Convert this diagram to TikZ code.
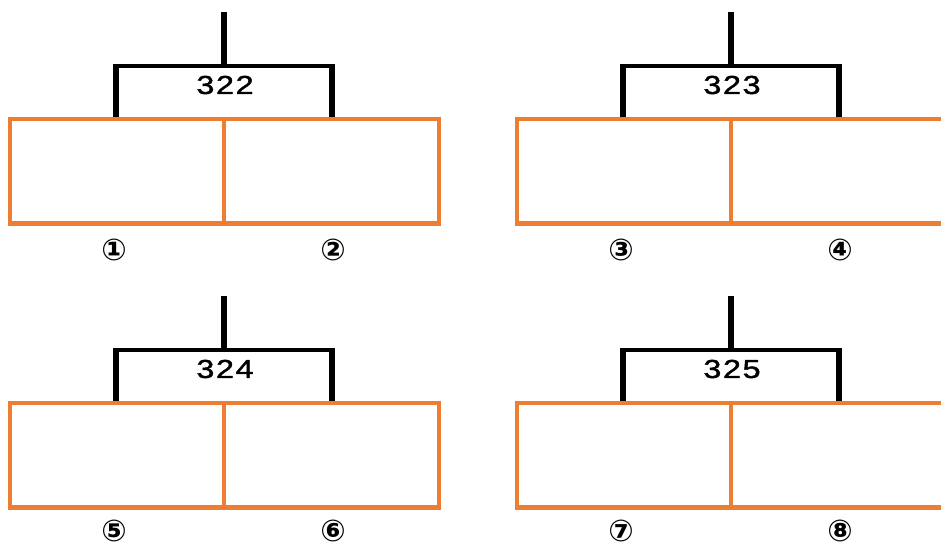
\documentclass[tikz,border=0pt]{standalone}
\usepackage{fontspec}
\setmainfont{Liberation Sans}
\newfontfamily\numfont[LetterSpace=6,FakeStretch=1.25,FakeBold=1.5]{Liberation Sans}
\newfontfamily\circfont{DejaVu Sans Bold}
\definecolor{boxorange}{HTML}{ED7D31}
\tikzset{
  orangebox/.style={draw=boxorange, line width=4.2pt},
  bracketbar/.style={draw=black, line width=4.5pt},
  bracketleg/.style={draw=black, line width=6.2pt},
  numlabel/.style={inner sep=0pt, font=\numfont\fontsize{26}{28}\selectfont},
  circlabel/.style={inner sep=0pt, font=\circfont\fontsize{30}{32}\selectfont}
}
\begin{document}
\begin{tikzpicture}[x=1pt,y=-1pt]
\useasboundingbox (0,0) rectangle (941,547);
\fill[white] (0,0) rectangle (941,547);
\foreach \ox/\oy/\cy/\lab/\na/\nb/\g in {0/0/250/322/①/②/A, 507/0/250/323/③/④/B, 0/284/246.5/324/⑤/⑥/C, 507/284/246.5/325/⑦/⑧/D}{
  \coordinate (\g top) at ({\ox+224},{\oy+12});
  \coordinate (\g mid) at ({\ox+224},{\oy+64});
  \coordinate (\g lt) at ({\ox+113},{\oy+66});
  \coordinate (\g rt) at ({\ox+335},{\oy+66});
  \coordinate (\g ltl) at ({\ox+116},{\oy+64});
  \coordinate (\g rtl) at ({\ox+332},{\oy+64});
  \coordinate (\g lb) at ({\ox+116},{\oy+118});
  \coordinate (\g rb) at ({\ox+332},{\oy+118});
  \coordinate (\g box1) at ({\ox+10},{\oy+119});
  \coordinate (\g box2) at ({\ox+439},{\oy+223.5});
  \coordinate (\g divt) at ({\ox+224},{\oy+119});
  \coordinate (\g divb) at ({\ox+224},{\oy+223.5});
  \draw[bracketleg] (\g top) -- (\g mid);
  \draw[bracketbar] (\g lt) -- (\g rt);
  \draw[bracketleg] (\g ltl) -- (\g lb);
  \draw[bracketleg] (\g rtl) -- (\g rb);
  \draw[orangebox] (\g box1) rectangle (\g box2);
  \draw[orangebox] (\g divt) -- (\g divb);
  \node[numlabel] (\g lab) at ({\ox+225},{\oy+85}) {\lab};
  \node[circlabel] (\g n1) at ({\ox+114},{\oy+\cy}) {\na};
  \node[circlabel] (\g n2) at ({\ox+333},{\oy+\cy}) {\nb};
}
\end{tikzpicture}
\end{document}
